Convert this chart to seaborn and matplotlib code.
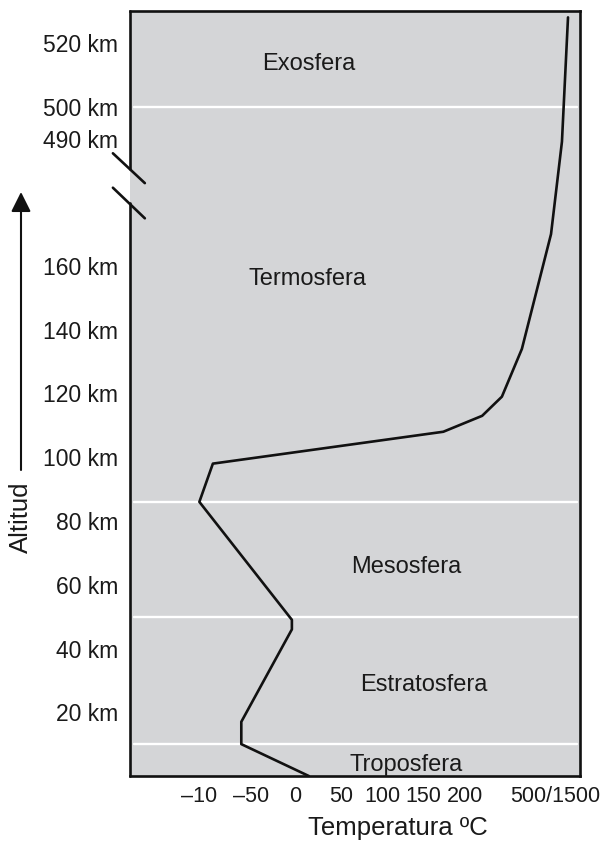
#!/bin/env python3

"""
Temperature profile of the atmosphere by layer, with a broken altitude axis
"""

import numpy as np
import matplotlib
matplotlib.use('Agg')
import matplotlib.pyplot as plt
import matplotlib.transforms as mtransforms
from matplotlib.ticker import FixedLocator, FixedFormatter, NullLocator
import seaborn as sns
sns.set_style('white')
plt.rcParams['font.family'] = ['Liberation Sans', 'DejaVu Sans']

# curve
altitude_km = [0, 10, 17, 46, 49, 86, 98, 108, 113, 119, 134, 170, 489, 528]
temperature_c = [15, -65, -65, -4, -4, -108, -94, 168, 250, 315, 381, 477, 513, 533]

# layer boundaries and names
boundaries_km = [10, 50, 86, 500]
layer_names = ['Exosfera', 'Termosfera', 'Mesosfera', 'Estratosfera', 'Troposfera']
layer_pos = [(0.398, 0.931), (0.394, 0.650), (0.613, 0.273), (0.654, 0.119), (0.613, 0.014)]

# axis ticks
y_major = [20, 40, 60, 80, 100, 120, 140, 160, 490, 500, 520]
y_minor = [10, 30, 50, 70, 90, 110, 130, 150, 170, 510]
x_ticks = [-100, -50, 0, 50, 100, 150, 200, 500]
x_labels = ['\u201310', '\u201350', '0', '50', '100', '150', '200', '500/1500']
x_label_shift = [-8, -5, 0, 0, 0, -7, -1.5, -3]  # px, labels sit a bit left in the original

# piecewise scale stops (value -> axis position)
T_STOPS = [-300, -100, -50, 0, 50, 100, 150, 200, 500, 1000]
T_POS = [16, 207, 256, 295, 341, 382, 430, 467, 558, 709.7]
A_STOPS = [-100, 0, 180, 480, 700]
A_POS = [-100, 0, 180, 190, 410]


def piecewise(stops, pos):
    """
    forward/inverse pair for a FuncScale
    """
    fwd = lambda v: np.interp(v, stops, pos)
    inv = lambda p: np.interp(p, pos, stops)
    return fwd, inv


def main(out_file):
    fig = plt.figure(figsize=(6.03, 8.44), dpi=100)
    ax = fig.add_axes([130 / 603, 1 - 776 / 844, 450 / 603, 765 / 844])
    ax.set_facecolor('#d4d5d7')

    tfwd, tinv = piecewise(T_STOPS, T_POS)
    afwd, ainv = piecewise(A_STOPS, A_POS)
    ax.set_xscale('function', functions=(tfwd, tinv))
    ax.set_yscale('function', functions=(afwd, ainv))

    for b in boundaries_km:
        ax.axhline(b, xmin=0.009, xmax=0.993, color='white', lw=1.7, zorder=1)

    sns.lineplot(x=temperature_c, y=altitude_km, sort=False, estimator=None,
                 color='#111111', lw=1.9, ax=ax, zorder=3)

    ax.set_xlim(float(tinv(130)), float(tinv(580)))
    ax.set_ylim(0, float(ainv(240)))

    ax.xaxis.set_major_locator(FixedLocator(x_ticks))
    ax.xaxis.set_major_formatter(FixedFormatter(x_labels))
    ax.xaxis.set_minor_locator(NullLocator())
    ax.yaxis.set_major_locator(FixedLocator(y_major))
    ax.yaxis.set_major_formatter(FixedFormatter(['%d km' % v for v in y_major]))
    ax.yaxis.set_minor_locator(FixedLocator(y_minor))

    ax.tick_params(axis='both', which='both', direction='inout', length=8,
                   width=1.3, color='#111111', labelcolor='#1a1a1a')
    ax.tick_params(axis='y', which='both', pad=4.5, labelsize=16.5)
    ax.tick_params(axis='x', which='both', pad=3.5, labelsize=15.5)
    ax.set_xlabel('')
    ax.set_ylabel('')

    for lab, dx in zip(ax.get_xticklabels(), x_label_shift):
        lab.set_transform(lab.get_transform() +
                          mtransforms.ScaledTranslation(dx / 100, 0, fig.dpi_scale_trans))

    for side in ['top', 'right', 'bottom']:
        ax.spines[side].set_linewidth(1.9)
        ax.spines[side].set_color('#111111')
    ax.spines['left'].set_visible(False)

    # left spine with the break
    kw = dict(transform=ax.transAxes, clip_on=False, color='#111111', lw=1.9, zorder=5)
    ax.plot([0, 0], [0, 0.749], **kw)
    ax.plot([0, 0], [0.793, 1], **kw)
    ax.plot([-0.038, 0.033], [0.814, 0.775], **kw)
    ax.plot([-0.038, 0.033], [0.769, 0.729], **kw)

    for name, (x, y) in zip(layer_names, layer_pos):
        ax.text(x, y, name, transform=ax.transAxes, ha='center', va='center',
                fontsize=17, color='#1a1a1a')

    fig.text(398 / 603, 1 - 828 / 844, 'Temperatura \u00baC', ha='center',
             va='center', fontsize=18.5, color='#1a1a1a')
    fig.text(21 / 603, 1 - 517 / 844, 'Altitud', rotation=90, ha='center',
             va='center', fontsize=18.5, color='#1a1a1a')
    ax.annotate('', xy=(21 / 603, 1 - 192 / 844), xytext=(21 / 603, 1 - 470 / 844),
                xycoords='figure fraction', textcoords='figure fraction',
                arrowprops=dict(arrowstyle='-|>', color='#111111', lw=1.5,
                                mutation_scale=30, shrinkA=0, shrinkB=0))

    plt.savefig(out_file, dpi=100, facecolor='white')
    plt.close()


if __name__ == '__main__':
    main('out.png')
